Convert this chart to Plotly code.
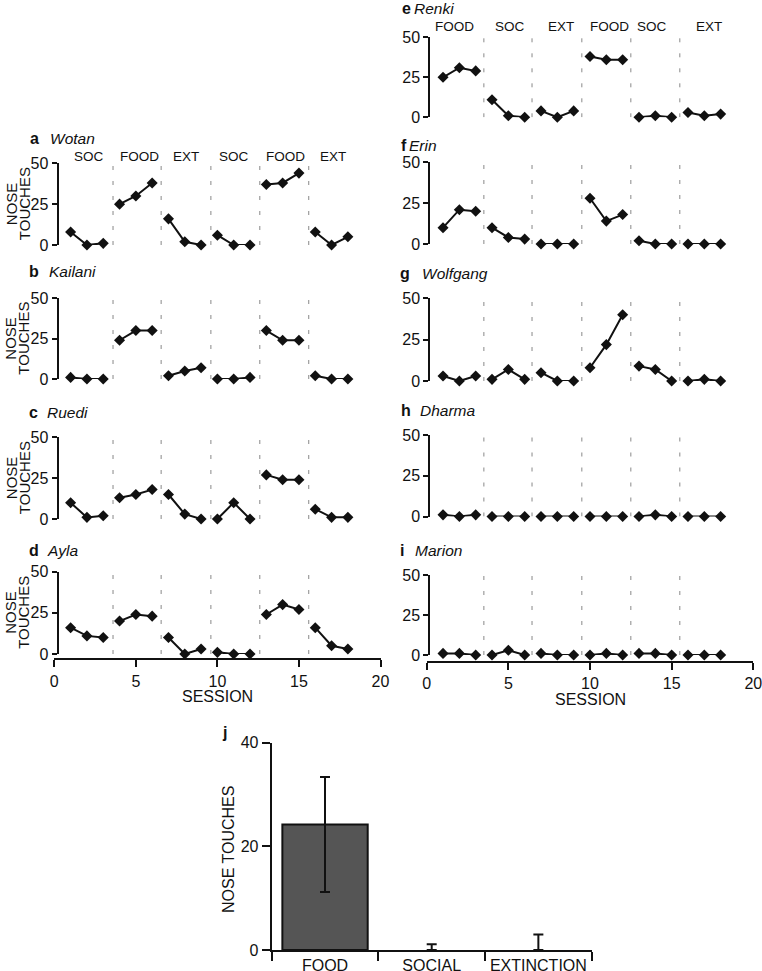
import plotly.graph_objects as go

# ---------------- data ----------------
sessions = list(range(1, 19))
phases_left = ["SOC", "FOOD", "EXT", "SOC", "FOOD", "EXT"]
phases_right = ["FOOD", "SOC", "EXT", "FOOD", "SOC", "EXT"]

letters = ["a", "b", "c", "d", "e", "f", "g", "h", "i"]
animals = ["Wotan", "Kailani", "Ruedi", "Ayla", "Renki", "Erin", "Wolfgang", "Dharma", "Marion"]

wotan = [8, 0, 1, 25, 30, 38, 16, 2, 0, 6, 0, 0, 37, 38, 44, 8, 0, 5]
kailani = [1, 0, 0, 24, 30, 30, 2, 5, 7, 0, 0, 1, 30, 24, 24, 2, 0, 0]
ruedi = [10, 1, 2, 13, 15, 18, 15, 3, 0, 0, 10, 0, 27, 24, 24, 6, 1, 1]
ayla = [16, 11, 10, 20, 24, 23, 10, 0, 3, 1, 0, 0, 24, 30, 27, 16, 5, 3]
renki = [25, 31, 29, 11, 1, 0, 4, 0, 4, 38, 36, 36, 0, 1, 0, 3, 1, 2]
erin = [10, 21, 20, 10, 4, 3, 0, 0, 0, 28, 14, 18, 2, 0, 0, 0, 0, 0]
wolfgang = [3, 0, 3, 1, 7, 1, 5, 0, 0, 8, 22, 40, 9, 7, 0, 0, 1, 0]
dharma = [1, 0, 1, 0, 0, 0, 0, 0, 0, 0, 0, 0, 0, 1, 0, 0, 0, 0]
marion = [1, 1, 0, 0, 3, 0, 1, 0, 0, 0, 1, 0, 1, 1, 0, 0, 0, 0]
series = [wotan, kailani, ruedi, ayla, renki, erin, wolfgang, dharma, marion]

y_ticks = [0, 25, 50]
x_ticks = [0, 5, 10, 15, 20]

bar_categories = ["FOOD", "SOCIAL", "EXTINCTION"]
bar_means = [24.2, 0, 0]
bar_err_plus = [9.2, 1.1, 3.0]
bar_err_minus = [13.0, 0, 0]
bar_ticks = [0, 20, 40]

# ---------------- layout helpers ----------------
W, H = 762, 971
FONT = "Liberation Sans, Arial, Helvetica, sans-serif"
INK = "#111"


def fx(px):
    return px / W


def fy(py):
    return 1 - py / H


# per panel: column, pixel y of value 0, pixel y of value 50
panel_geom = [
    (0, 245.0, 163.3), (0, 379.0, 298.3), (0, 519.0, 437.3), (0, 654.0, 571.7),
    (1, 117.3, 37.3), (1, 244.0, 162.3), (1, 381.0, 298.3), (1, 516.5, 435.0), (1, 655.0, 575.0),
]
col_x = [(54.3, 380.5), (426.7, 753.3)]
col_spine = [57.5, 429.3]
boundaries = [[3.6, 6.55, 9.6, 12.6, 15.6], [3.5, 6.45, 9.5, 12.5, 15.5]]
# title positions: (letter x, name x, y)
title_pos = [
    (28, 48.3, 138), (27, 46.7, 272), (27, 45, 412), (27, 45, 550),
    (400, 411.7, 8), (399, 406.7, 145), (398, 420, 273), (399, 418.3, 410), (398, 412.7, 550),
]
phase_label_x = {0: [2.1, 5.2, 8.1, 11.0, 14.2, 17.1], 4: [1.7, 5.1, 8.2, 11.2, 13.8, 17.3]}
phase_label_y = {0: 156.7, 4: 26}
xaxis_line_y = {3: 659.3, 8: 661.7}
session_label_y = {3: 696.5, 8: 699.0}

fig = go.Figure()
layout = dict(
    width=W, height=H, margin=dict(l=0, r=0, t=0, b=0, pad=0, autoexpand=False),
    paper_bgcolor="white", plot_bgcolor="rgba(0,0,0,0)",
    showlegend=False, font=dict(family=FONT, color=INK, size=15),
)
annotations = []
shapes = []


def label(text, x, y, size, xanchor="center", angle=0, xref="paper"):
    annotations.append(dict(text=text, x=x, y=y, xref=xref, yref="paper",
                            xanchor=xanchor, yanchor="middle", textangle=angle,
                            showarrow=False, font=dict(size=size, family=FONT, color=INK)))


for i, vals in enumerate(series):
    n = i + 1
    xa = "x" if n == 1 else f"x{n}"
    ya = "y" if n == 1 else f"y{n}"
    xkey = "xaxis" if n == 1 else f"xaxis{n}"
    ykey = "yaxis" if n == 1 else f"yaxis{n}"
    col, p0, p50 = panel_geom[i]
    xl, xr = col_x[col]

    xs, ys = [], []
    for p in range(6):
        xs += sessions[3 * p:3 * p + 3] + [None]
        ys += vals[3 * p:3 * p + 3] + [None]
    fig.add_trace(go.Scatter(
        x=xs, y=ys, xaxis=xa, yaxis=ya, mode="lines+markers",
        line=dict(color=INK, width=2),
        marker=dict(symbol="diamond", size=8.5, color=INK),
        cliponaxis=False, connectgaps=False, hoverinfo="skip",
    ))

    xax = dict(domain=[fx(xl), fx(xr)], range=[0, 20], fixedrange=True,
               showgrid=False, zeroline=False, automargin=False)
    if i in xaxis_line_y:
        xax.update(anchor="free", position=fy(xaxis_line_y[i]), showline=True,
                   linecolor=INK, linewidth=2, ticks="outside", ticklen=7,
                   tickwidth=2, tickcolor=INK, tickvals=x_ticks,
                   ticklabeloverflow="allow",
                   tickfont=dict(size=16, family=FONT, color=INK))
    else:
        xax.update(visible=False, anchor=ya)
    layout[xkey] = xax

    layout[ykey] = dict(
        domain=[fy(p0), fy(p50)], range=[0, 50], anchor="free",
        position=fx(col_spine[col]), showline=True, linecolor=INK, linewidth=2,
        ticks="outside", ticklen=5, tickwidth=2, tickcolor=INK, tickvals=y_ticks,
        tickfont=dict(size=16, family=FONT, color=INK), showgrid=False,
        zeroline=False, fixedrange=True, automargin=False, ticklabeloverflow="allow",
    )

    for b in boundaries[col]:
        shapes.append(dict(type="line", xref=xa, yref=ya, x0=b, x1=b, y0=0, y1=50,
                           line=dict(color="#888", width=1, dash="4px,11px")))

    lx, nx, ty = title_pos[i]
    label(f"<b>{letters[i]}</b>", fx(lx), fy(ty), 16, xanchor="left")
    label(f"<i>{animals[i]}</i>", fx(nx), fy(ty), 15.5, xanchor="left")
    if col == 0:
        mid = fy((p0 + p50) / 2)
        label("NOSE", fx(11), mid, 15, angle=-90)
        label("TOUCHES", fx(24), mid, 15, angle=-90)
    if i in phase_label_x:
        names = phases_left if col == 0 else phases_right
        for name, px_ in zip(names, phase_label_x[i]):
            label(name, px_, fy(phase_label_y[i]), 13.5, xref=xa)
    if i in session_label_y:
        label("SESSION", fx((xl + xr) / 2), fy(session_label_y[i]), 16)

# ---------------- bar chart j ----------------
fig.add_trace(go.Bar(
    x=bar_categories, y=bar_means, xaxis="x10", yaxis="y10", width=0.8,
    marker=dict(color="#555555",
                line=dict(color=INK, width=[2 if v > 0 else 0 for v in bar_means])),
    error_y=dict(type="data", symmetric=False, array=bar_err_plus,
                 arrayminus=bar_err_minus, color=INK, thickness=2, width=5),
    cliponaxis=False, hoverinfo="skip",
))
layout["xaxis10"] = dict(
    domain=[fx(271.7), fx(591.7)], anchor="y10", type="category", range=[-0.5, 2.5],
    showline=True, linecolor=INK, linewidth=2, ticks="outside", tickson="boundaries",
    ticklen=9, tickwidth=2, tickcolor=INK, showgrid=False, zeroline=False,
    tickangle=0, ticklabeloverflow="allow",
    tickfont=dict(size=16, family=FONT, color=INK), fixedrange=True, automargin=False,
)
layout["yaxis10"] = dict(
    domain=[fy(950), fy(742.7)], anchor="x10", range=[0, 40], showline=True,
    linecolor=INK, linewidth=2, ticks="outside", ticklen=8, tickwidth=2,
    tickcolor=INK, tickvals=bar_ticks, showgrid=False, zeroline=False,
    tickfont=dict(size=16, family=FONT, color=INK), fixedrange=True, automargin=False,
)
label("<b>j</b>", fx(220), fy(732), 16, xanchor="left")
label("NOSE TOUCHES", fx(228), fy(850), 16, angle=-90)

layout["annotations"] = annotations
layout["shapes"] = shapes
fig.update_layout(**layout)
fig.write_html(
    "out.html",
    config={"displayModeBar": False, "staticPlot": True},
    post_script="document.body.style.margin='0';document.body.style.overflow='hidden';",
)
